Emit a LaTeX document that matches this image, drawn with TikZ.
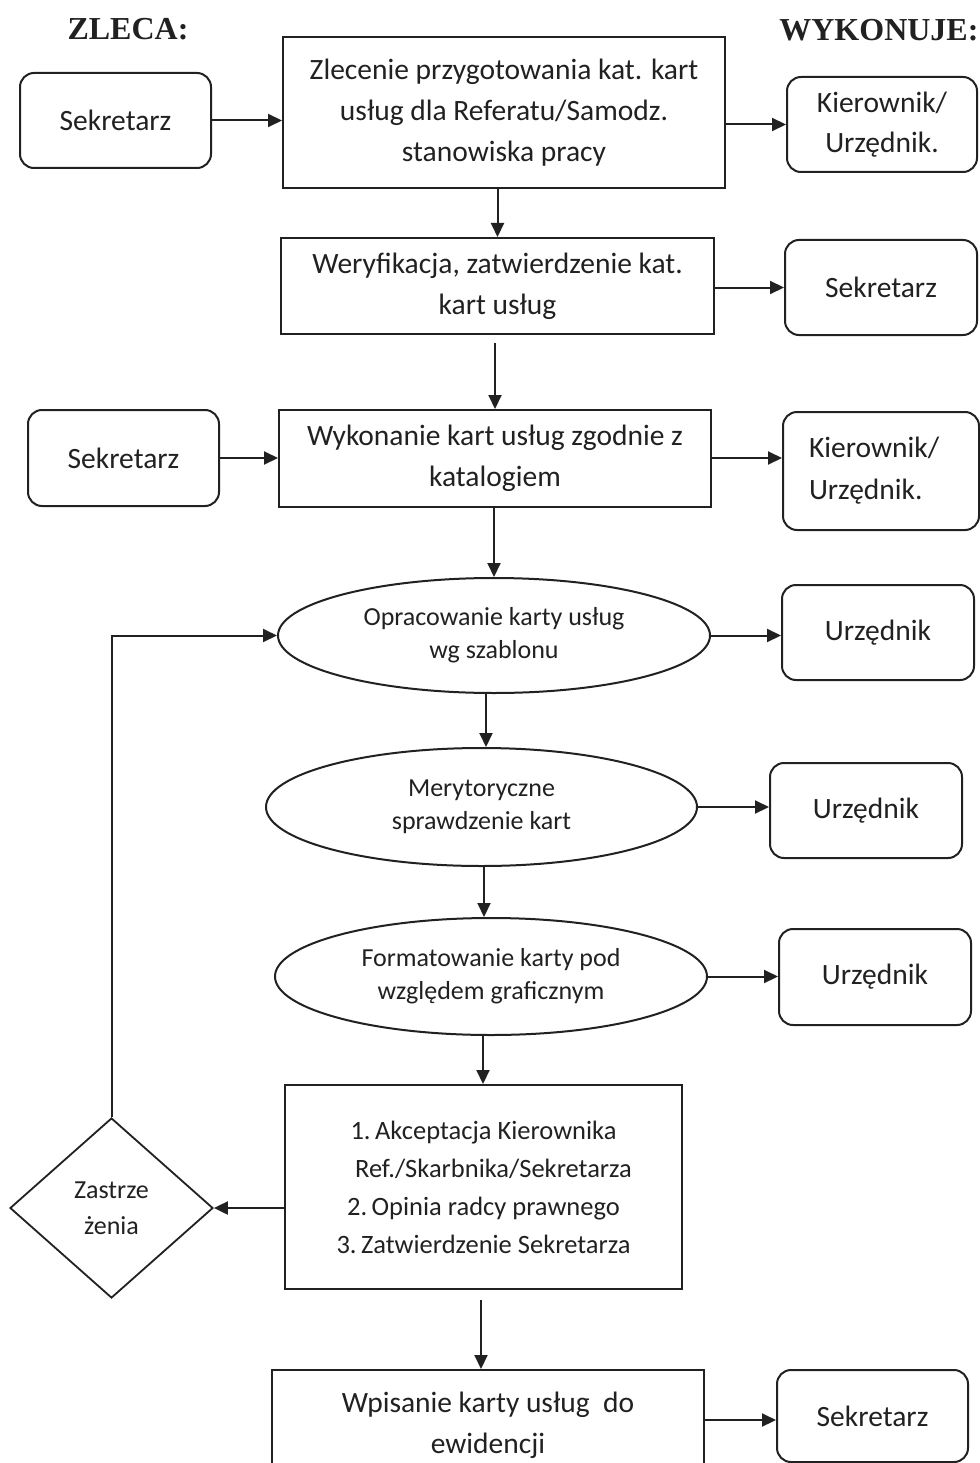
\documentclass[tikz,border=0pt]{standalone}
\usepackage{fontspec}
\setmainfont{Carlito}
\newfontfamily\headfont{Liberation Serif}
\usetikzlibrary{arrows.meta,shapes.geometric}
\definecolor{ink}{gray}{0.13}
\tikzset{
  every node/.style={text=ink},
  box/.style={draw=ink, line width=2pt, rectangle, inner sep=0pt, align=center,
    font=\fontsize{29.5}{41}\selectfont},
  rbox/.style={draw=ink, line width=2pt, rectangle, rounded corners=14pt, inner sep=0pt,
    align=center, font=\fontsize{29.5}{40}\selectfont},
  oval/.style={draw=ink, line width=2pt, ellipse, inner sep=0pt, align=center,
    font=\fontsize{26}{33}\selectfont},
  dia/.style={draw=ink, line width=1.8pt, diamond, inner sep=0pt, align=center,
    font=\fontsize{26}{36}\selectfont},
  head/.style={font=\headfont\bfseries\fontsize{32}{36}\selectfont},
  arr/.style={draw=ink, line width=2pt, -{Triangle[length=14pt,width=13pt]}},
}
\begin{document}
\begin{tikzpicture}[x=1pt,y=-1pt]
\useasboundingbox[fill=white] (0,0) rectangle (979,1463);

% headers
\node[head] (h1) at (128,29) {ZLECA:};
\node[head, anchor=east] (h2) at (982,30) {WYKONUJE:};

% row 1
\node[rbox, minimum width=191pt, minimum height=95pt] (s1) at (115.5,120.5) {Sekretarz};
\node[box, minimum width=442pt, minimum height=151pt] (b1) at (504,112.5)
  {Zlecenie przygotowania kat. kart\\usług dla Referatu/Samodz.\\stanowiska pracy};
\node[rbox, minimum width=190pt, minimum height=95pt] (k1) at (882,124.5) {Kierownik/\\Urzędnik.};

% row 2
\node[box, minimum width=433pt, minimum height=96pt] (b2) at (497.5,286)
  {Weryfikacja, zatwierdzenie kat.\\kart usług};
\node[rbox, minimum width=192pt, minimum height=95pt] (s2) at (881,287.5) {Sekretarz};

% row 3
\node[rbox, minimum width=191pt, minimum height=96pt] (s3) at (123.5,458) {Sekretarz};
\node[box, minimum width=432pt, minimum height=97pt] (b3) at (495,458.5)
  {Wykonanie kart usług zgodnie z\\katalogiem};
\node[rbox, minimum width=196pt, minimum height=118pt, align=left, text width=144pt,
  font=\fontsize{29.5}{42}\selectfont] (k2) at (881,471) {Kierownik/\\Urzędnik.};

% ellipses
\node[oval, minimum width=432pt, minimum height=115pt] (e1) at (494,635.5)
  {Opracowanie karty usług\\wg szablonu};
\node[rbox, minimum width=192pt, minimum height=95pt] (u1) at (878,632.5) {Urzędnik};

\node[oval, minimum width=431pt, minimum height=118pt] (e2) at (481.5,807)
  {Merytoryczne\\sprawdzenie kart};
\node[rbox, minimum width=192pt, minimum height=95pt] (u2) at (866,810.5) {Urzędnik};

\node[oval, minimum width=432pt, minimum height=117pt] (e3) at (491,976.5)
  {Formatowanie karty pod\\względem graficznym};
\node[rbox, minimum width=192pt, minimum height=96pt] (u3) at (875,977) {Urzędnik};

% acceptance box
\node[box, minimum width=397pt, minimum height=204pt, font=\fontsize{26.5}{38}\selectfont]
  (b4) at (483.5,1187)
  {1.\,Akceptacja Kierownika\\\hspace*{20pt}Ref./Skarbnika/Sekretarza\\2.\,Opinia radcy prawnego\\3.\,Zatwierdzenie Sekretarza};
\node[dia, minimum width=203pt, minimum height=180pt] (d) at (111.5,1208) {Zastrze\\żenia};

% last row
\node[box, minimum width=432pt, minimum height=110pt] (b5) at (488,1425)
  {Wpisanie karty usług\ \ do\\ewidencji};
\node[rbox, minimum width=191pt, minimum height=92pt] (s5) at (872.5,1416) {Sekretarz};

% connectors
\draw[arr] (s1.east) -- (b1.west |- s1.east);
\draw[arr] (b1.east |- k1.west) -- (k1.west);
\draw[arr] (b1.south -| b2.north) -- (b2.north);
\draw[arr] (b2.east |- s2.west) -- (s2.west);
\draw[arr] ([yshift=-8pt]b2.south -| b3.north) -- (b3.north);
\draw[arr] (s3.east) -- (b3.west |- s3.east);
\draw[arr] (b3.east |- s3.east) -- (k2.west |- s3.east);
\draw[arr] (b3.south -| e1.north) -- (e1.north);
\draw[arr] (e1.east) -- (u1.west |- e1.east);
\draw[arr] (e1.south -| 486,0) -- (e2.north -| 486,0);
\draw[arr] (e2.east) -- (u2.west |- e2.east);
\draw[arr] (e2.south -| 484,0) -- (e3.north -| 484,0);
\draw[arr] (e3.east) -- (u3.west |- e3.east);
\draw[arr] (e3.south -| 483,0) -- (b4.north -| 483,0);
\draw[arr] (b4.west |- d.east) -- (d.east);
\draw[arr] (d.north) -- (d.north |- e1.west) -- (e1.west);
\draw[arr] ([yshift=-10pt]b4.south -| 481,0) -- (b5.north -| 481,0);
\draw[arr] (b5.east |- 0,1420) -- (s5.west |- 0,1420);
\end{tikzpicture}
\end{document}
